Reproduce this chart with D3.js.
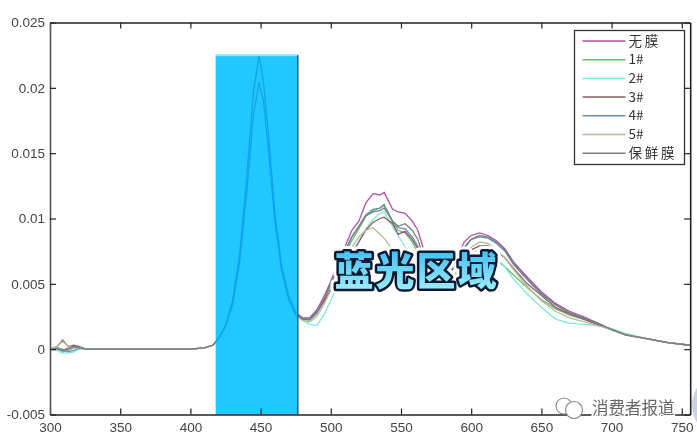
<!DOCTYPE html>
<html><head><meta charset="utf-8">
<script src="https://cdnjs.cloudflare.com/ajax/libs/d3/7.8.5/d3.min.js"></script>
<style>html,body{margin:0;padding:0;background:#fff}svg{display:block;filter:blur(.5px)}</style>
</head><body><div id="c"></div>
<script>
const wavelengths=[300,305,309,313,317,321,326,335,400,410,416,420,425,430,435,440,445,449,452,456,460,465,470,475,480,485,490,495,500,505,510,515,520,525,530,535,538,544,548,553,558,562,567,570,580,590,595,600,606,612,618,624,630,640,650,660,670,680,690,700,710,725,740,756];
const noFilm=[0,.0001,-.0001,.0001,.0002,.0001,0,0,0,.0001,.0003,.0008,.0018,.0037,.0072,.013,.0198,.0224,.0205,.016,.0106,.0064,.0041,.0028,.0024,.0024,.003,.004,.0052,.0066,.0078,.0091,.0098,.0112,.0119,.0118,.012,.0107,.0105,.0104,.0098,.0091,.0073,.0062,.0052,.007,.0082,.0087,.0089,.0087,.0083,.0077,.0067,.0055,.0044,.0035,.0029,.0025,.002,.0015,.0011,.0008,.0005,.0003];
const s1=[0,.0001,-.0002,-.0001,.0001,.0001,0,0,0,.0001,.0003,.0008,.0017,.0035,.0068,.0122,.0184,.0207,.0192,.015,.01,.0061,.0039,.0027,.0023,.0022,.0027,.0037,.0049,.0062,.0073,.0083,.0092,.0102,.0106,.0108,.0111,.0097,.0091,.0089,.0082,.0074,.006,.0052,.0045,.0056,.0066,.0071,.0073,.0072,.0068,.0063,.0057,.0047,.0038,.0031,.0026,.0023,.0019,.0015,.0011,.0008,.0005,.0003];
const s2=[0,-.0001,-.0003,-.0003,-.0002,0,0,0,0,.0001,.0003,.0008,.0017,.0035,.0068,.0122,.0184,.0207,.0192,.015,.01,.006,.0037,.0026,.0022,.0019,.0018,.0026,.0037,.005,.0062,.0073,.0083,.0092,.0099,.0104,.0105,.0094,.0087,.0078,.0068,.0064,.0055,.0048,.0043,.0058,.0068,.0074,.0076,.0075,.007,.0063,.0054,.0042,.0032,.0023,.002,.0019,.0018,.0016,.0012,.0008,.0005,.0003];
const s3=[0,.0002,.0007,.0002,.0003,.0002,0,0,0,.0001,.0003,.0008,.0017,.0035,.0069,.0124,.0186,.0209,.0194,.0152,.0101,.0061,.004,.0027,.0023,.0023,.0028,.0036,.0046,.0056,.0063,.0073,.0082,.0091,.0097,.01,.0101,.0096,.0088,.009,.0084,.0077,.0064,.0056,.0047,.0058,.0069,.0076,.0079,.0079,.0075,.007,.0062,.005,.0041,.0032,.0027,.0023,.0019,.0015,.0011,.0008,.0005,.0003];
const s4=[0,.0001,0,-.0002,-.0001,.0001,0,0,0,.0001,.0003,.0008,.0017,.0035,.0068,.0123,.0186,.0211,.0195,.0152,.0101,.0061,.004,.0027,.0023,.0023,.0028,.0038,.005,.0063,.0074,.0086,.0094,.0103,.0107,.0108,.011,.0098,.0093,.0092,.0086,.0079,.0065,.0056,.005,.0066,.0077,.0084,.0086,.0085,.0081,.0075,.0065,.0053,.0042,.0034,.0028,.0024,.002,.0015,.0011,.0008,.0005,.0003];
const s5=[0,.0002,.0006,.0002,.0001,.0001,0,0,0,.0001,.0003,.0008,.0017,.0034,.0066,.0119,.018,.0204,.019,.0148,.0099,.006,.0038,.0026,.0022,.0021,.0025,.0034,.0045,.0058,.0068,.0078,.0086,.0091,.0093,.0088,.0085,.0076,.0071,.0067,.0062,.0057,.0052,.0047,.0045,.006,.0071,.0078,.0082,.0081,.0076,.007,.0061,.0048,.0037,.0029,.0024,.0021,.0018,.0015,.0011,.0008,.0005,.0003];
const cling=[0,0,-.0001,0,.0002,.0001,0,0,0,.0001,.0003,.0008,.0018,.0036,.007,.0126,.019,.0214,.0198,.0155,.0103,.0062,.004,.0027,.0023,.0023,.0029,.0038,.005,.0063,.0075,.0086,.0094,.0102,.0105,.0106,.0108,.0098,.0094,.0096,.0091,.0084,.0068,.0058,.0051,.0067,.0078,.0084,.0087,.0086,.0082,.0076,.0066,.0054,.0043,.0034,.0028,.0024,.002,.0015,.0011,.0008,.0005,.0003];
const seriesNames=["无膜","1#","2#","3#","4#","5#","保鲜膜"];
const seriesValues=[noFilm,s1,s2,s3,s4,s5,cling];
const seriesColors=["#b052a8","#68bd6e","#7fe6de","#8a5f62","#6a90b8","#b9b898","#7d7d7d"];
const xTicks=[300,350,400,450,500,550,600,650,700,750];
const yTicks=[-0.005,0,0.005,0.01,0.015,0.02,0.025];
const yTickLabels=["-0.005","0","0.005","0.01","0.015","0.02","0.025"];
const blueBand=[418,476.5];
const blueBandTop=0.0225;
const bandLabel="蓝光区域";
const watermark="消费者报道";

const svg=d3.select("#c").append("svg").attr("width",697).attr("height",440).style("font-family","'Liberation Sans',Arial,sans-serif");
const x=d3.scaleLinear().domain([300,756]).range([50,690.2]);
const y=d3.scaleLinear().domain([-0.005,0.025]).range([414.5,22.5]);
const line=d3.line().x((d,i)=>x(wavelengths[i])).y(d=>y(d));

const defs=svg.append("defs");
const grad=defs.append("linearGradient").attr("id","lab").attr("x1",0).attr("x2",0).attr("y1",0).attr("y2",1);
grad.append("stop").attr("offset","0%").attr("stop-color","#2bb4f5");
grad.append("stop").attr("offset","100%").attr("stop-color","#a8f4fb");
defs.append("clipPath").attr("id","band").append("rect").attr("x",x(blueBand[0])).attr("width",x(blueBand[1])-x(blueBand[0])).attr("y",y(blueBandTop)).attr("height",y(-0.005)-y(blueBandTop));

// curves
svg.append("g").selectAll("path").data(seriesValues).join("path").attr("d",line).attr("fill","none").attr("stroke",(d,i)=>seriesColors[i]).attr("stroke-width",1.3);

// blue band with curves seen through it
svg.append("rect").attr("x",x(blueBand[0])).attr("width",x(blueBand[1])-x(blueBand[0])).attr("y",y(blueBandTop)).attr("height",y(-0.005)-y(blueBandTop)).attr("fill","#21c8ff");
svg.append("rect").attr("x",x(blueBand[0])).attr("width",x(blueBand[1])-x(blueBand[0])).attr("y",y(blueBandTop)-1).attr("height",2).attr("fill","#8fe6ff");
svg.append("line").attr("x1",x(blueBand[1])).attr("x2",x(blueBand[1])).attr("y1",y(blueBandTop)).attr("y2",y(-0.005)).attr("stroke","#0a4f74").attr("stroke-width",1.4);
svg.append("g").attr("clip-path","url(#band)").selectAll("path").data([noFilm,s5]).join("path").attr("d",line).attr("fill","none").attr("stroke","#0fa3ea").attr("stroke-width",1.3);

// axes
const ax=svg.append("g");
function styleAxis(g,c){g.select(".domain").attr("stroke",c).attr("stroke-width",1.6);g.selectAll(".tick line").attr("stroke","#222").attr("stroke-width",1.2);g.selectAll("text").attr("fill","#444").attr("font-family","'Liberation Sans',Arial,sans-serif").attr("font-size",13.5);}
const axBottom=ax.append("g").attr("transform",`translate(0,${y(-0.005)})`).call(d3.axisBottom(x).tickValues(xTicks).tickSizeInner(-6).tickSizeOuter(0).tickPadding(7.5).tickFormat(d3.format("d")));
styleAxis(axBottom,"#222");
const axTop=ax.append("g").attr("transform",`translate(0,${y(0.025)})`).call(d3.axisTop(x).tickValues(xTicks).tickSizeInner(-6).tickSizeOuter(0).tickFormat(""));
styleAxis(axTop,"#222");
const axLeft=ax.append("g").attr("transform",`translate(${x(300)},0)`).call(d3.axisLeft(y).tickValues(yTicks).tickSizeInner(-6).tickSizeOuter(0).tickPadding(5).tickFormat((d,i)=>yTickLabels[i]));
styleAxis(axLeft,"#555");
const axRight=ax.append("g").attr("transform",`translate(${x(756)},0)`).call(d3.axisRight(y).tickValues(yTicks).tickSizeInner(-6).tickSizeOuter(0).tickFormat(""));
styleAxis(axRight,"#222");

// legend
const lg=svg.append("g").attr("transform","translate(574.5,30.5)");
lg.append("rect").attr("width",110).attr("height",134).attr("fill","#fff").attr("stroke","#333").attr("stroke-width",1.3);
const rows=lg.selectAll("g").data(seriesNames).join("g").attr("transform",(d,i)=>`translate(0,${10.5+i*18.7})`);
rows.append("line").attr("x1",8).attr("x2",51).attr("stroke",(d,i)=>seriesColors[i]).attr("stroke-width",1.5);
rows.append("text").attr("x",54).attr("y",4.5).attr("font-size",13.5).attr("letter-spacing",d=>d.includes("#")?0:2.8).attr("fill","#333").attr("font-family","'Noto Sans CJK SC','Liberation Sans',sans-serif").text(d=>d);

// overlay caption with a white halo that hides the curves behind it
const cap=svg.append("g").attr("text-anchor","middle").attr("font-size",39).attr("font-weight",900).attr("letter-spacing",2).attr("font-family","'Noto Sans CJK SC',sans-serif");
cap.append("text").attr("x",416.5).attr("y",285).attr("fill","#fff").attr("stroke","#fff").attr("stroke-width",11).attr("stroke-linejoin","round").text(bandLabel);
cap.append("text").attr("x",416.5).attr("y",285).attr("fill","url(#lab)").attr("stroke","#0a1a30").attr("stroke-width",5).attr("stroke-linejoin","round").attr("paint-order","stroke").text(bandLabel);

// watermark
const wm=svg.append("g");
wm.append("circle").attr("cx",725).attr("cy",405).attr("r",33).attr("fill","#cdd0e0");
wm.append("circle").attr("cx",564).attr("cy",406).attr("r",8).attr("fill","#fff").attr("stroke","#888").attr("stroke-width",1.1);
wm.append("circle").attr("cx",574).attr("cy",410).attr("r",8.5).attr("fill","#fff").attr("stroke","#888").attr("stroke-width",1.1);
wm.append("text").attr("x",592).attr("y",414).attr("font-size",16.5).attr("font-family","'Noto Sans CJK SC',sans-serif").attr("fill","#666").attr("stroke","#fff").attr("stroke-width",3).attr("paint-order","stroke").text(watermark);
</script></body></html>
